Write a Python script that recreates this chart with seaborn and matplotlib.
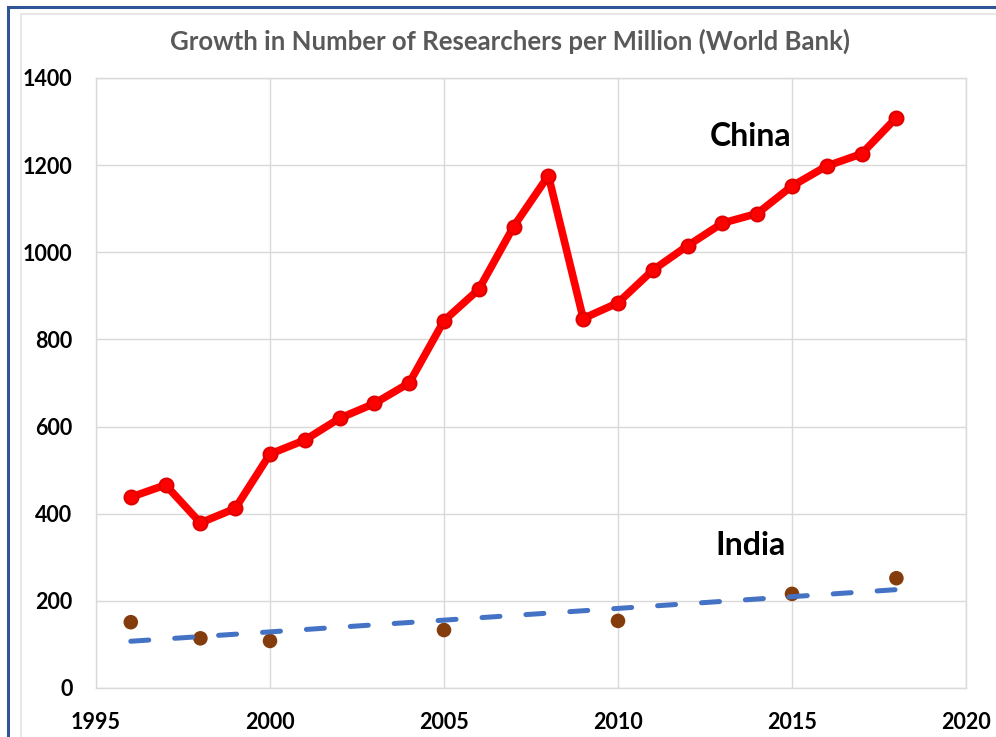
import numpy as np
import pandas as pd
import matplotlib
matplotlib.use("Agg")
import matplotlib.pyplot as plt
from matplotlib.patches import Rectangle
import seaborn as sns

# 数据
china_years = list(range(1996, 2019))
china_values = [438, 466, 379, 412, 537, 569, 619, 653, 700, 843, 915, 1059,
                1176, 848, 884, 959, 1015, 1067, 1089, 1152, 1198, 1226, 1309]
india_years = [1996, 1998, 2000, 2005, 2010, 2015, 2018]
india_values = [151, 114, 108, 133, 154, 216, 252]

x_ticks = [1995, 2000, 2005, 2010, 2015, 2020]
y_ticks = [0, 200, 400, 600, 800, 1000, 1200, 1400]

china_df = pd.DataFrame({"year": china_years, "value": china_values})
india_df = pd.DataFrame({"year": india_years, "value": india_values})

sns.set_theme(style="whitegrid")
plt.rcParams["font.family"] = ["Lato", "DejaVu Sans"]

fig = plt.figure(figsize=(9.96, 7.37), dpi=100)
ax = fig.add_axes([96 / 996, 1 - 688 / 737, 870 / 996, 610 / 737])

# 中国
sns.lineplot(data=china_df, x="year", y="value", ax=ax, color="#FF0000",
             linewidth=5.5, marker="o", markersize=10,
             markeredgecolor="#E00000", markeredgewidth=1.5, zorder=3)

# 印度 散点 + 趋势线
sns.scatterplot(data=india_df, x="year", y="value", ax=ax, color="#843C0C",
                s=110, edgecolor="none", zorder=3)
sns.regplot(data=india_df, x="year", y="value", ax=ax, scatter=False, ci=None,
            truncate=True, color="#4472C4",
            line_kws={"linewidth": 3.6, "dashes": (3.6, 5.2),
                      "dash_capstyle": "round", "zorder": 4})

ax.set_xlim(1995, 2020)
ax.set_ylim(0, 1400)
ax.set_xticks(x_ticks)
ax.set_yticks(y_ticks)
ax.set_xlabel("")
ax.set_ylabel("")
ax.grid(True, color="#D9D9D9", linewidth=1)
for sp in ax.spines.values():
    sp.set_color("#D9D9D9")
    sp.set_linewidth(1)
ax.tick_params(axis="both", length=0, labelsize=15.5, labelcolor="black")
ax.tick_params(axis="x", pad=17)
ax.tick_params(axis="y", pad=17)
for lab in ax.get_xticklabels() + ax.get_yticklabels():
    lab.set_fontweight("bold")

ax.text(2013.8, 1265, "China", fontsize=23, fontweight="bold",
        ha="center", va="center", color="black")
ax.text(2013.8, 326, "India", fontsize=23, fontweight="bold",
        ha="center", va="center", color="black")

fig.text(510 / 996, 1 - 41 / 737,
         "Growth in Number of Researchers per Million (World Bank)",
         fontsize=18.5, fontweight="bold", color="#595959",
         ha="center", va="center")

# 边框
fig.patches.append(Rectangle((21 / 996, -0.1), 1.2, 1 - 14 / 737 + 0.1,
                             transform=fig.transFigure, fill=False,
                             edgecolor="#E3E3E3", linewidth=1.2))
fig.patches.append(Rectangle((8 / 996, -0.1), 1.2, 1 - 7 / 737 + 0.1,
                             transform=fig.transFigure, fill=False,
                             edgecolor="#2F5597", linewidth=2.2))

fig.savefig("out.png", dpi=100)
